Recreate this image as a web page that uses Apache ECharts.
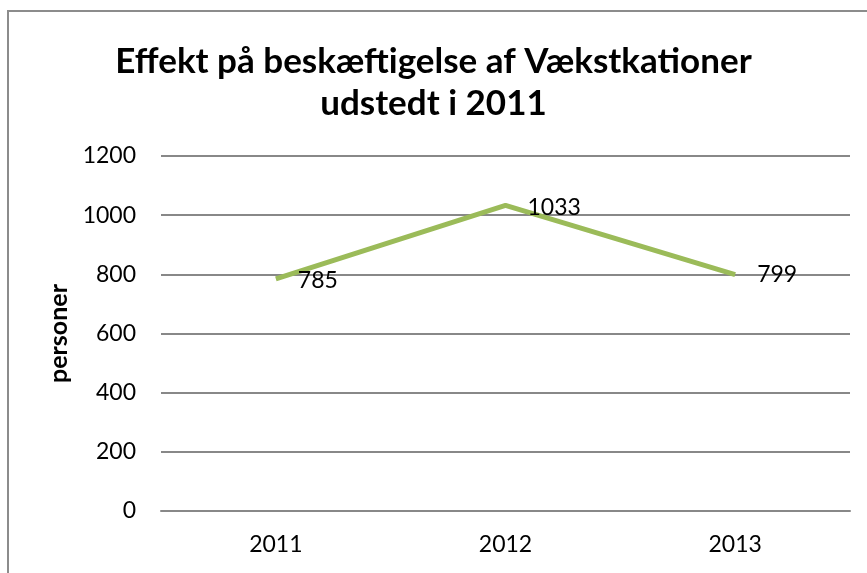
<!DOCTYPE html>
<html>
<head>
<meta charset="utf-8">
<script src="https://cdn.jsdelivr.net/npm/echarts@6/dist/echarts.min.js"></script>
<style>html,body{margin:0;padding:0;background:#fff;}#c{width:867px;height:573px;}</style>
</head>
<body>
<div id="c"></div>
<script>
const categories = ['2011', '2012', '2013'];
const values = [785, 1033, 799];
const yTicks = [0, 200, 400, 600, 800, 1000, 1200];
const titleText = 'Effekt på beskæftigelse af Vækstkationer\nudstedt i 2011';
const yName = 'personer';

const font = 'Lato, "Open Sans", sans-serif';
const chart = echarts.init(document.getElementById('c'));
chart.setOption({
  animation: false,
  backgroundColor: '#fff',
  graphic: [{
    type: 'rect', silent: true,
    shape: { x: 8, y: 11, width: 900, height: 600 },
    style: { fill: 'none', stroke: '#8c8c8c', lineWidth: 2 }
  }],
  title: {
    text: titleText,
    left: 'center', top: 36,
    textStyle: { fontFamily: font, fontWeight: 'bold', fontSize: 35, lineHeight: 42, color: '#000' }
  },
  grid: { left: 161, right: 17, top: 156, bottom: 62 },
  xAxis: {
    type: 'category', data: categories, boundaryGap: true,
    axisLine: { show: true, lineStyle: { color: '#888', width: 2 } },
    axisTick: { show: false },
    axisLabel: { fontFamily: font, fontSize: 23, color: '#000', margin: 22 }
  },
  yAxis: {
    type: 'value', min: yTicks[0], max: yTicks[yTicks.length - 1], interval: 200,
    name: yName, nameLocation: 'middle', nameGap: 87, nameRotate: 90,
    nameTextStyle: { fontFamily: font, fontWeight: 'bold', fontSize: 25, color: '#000' },
    axisLine: { show: false }, axisTick: { show: false },
    axisLabel: { fontFamily: font, fontSize: 23, color: '#000', margin: 25, formatter: v => String(v) },
    splitLine: { lineStyle: { color: '#888', width: 2 } }
  },
  series: [{
    type: 'line',
    data: values.map((v, i) => ({ value: v, label: i === 0 ? { offset: [0, 2] } : (i === 1 ? { offset: [0, 2] } : {}) })),
    symbol: 'circle', symbolSize: 0, showSymbol: true,
    lineStyle: { color: '#9BBB59', width: 5 },
    itemStyle: { color: '#9BBB59' },
    label: { show: true, position: 'right', distance: 22, fontFamily: font, fontSize: 23, color: '#000', formatter: p => String(p.value) }
  }]
});
</script>
</body>
</html>
